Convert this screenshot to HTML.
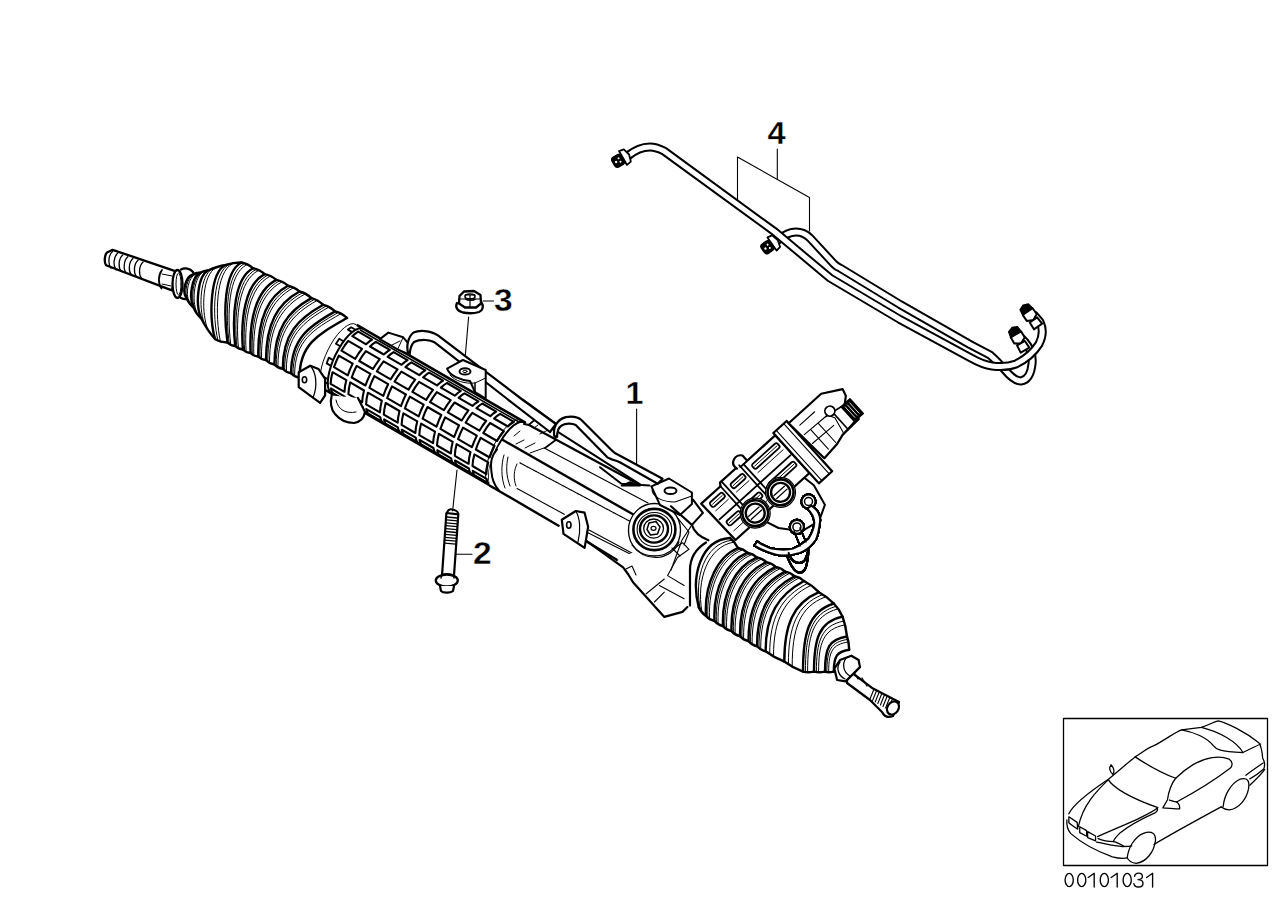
<!DOCTYPE html>
<html><head><meta charset="utf-8">
<style>
html,body{margin:0;padding:0;background:#fff;width:1288px;height:910px;overflow:hidden}
svg{position:absolute;left:0;top:0;display:block}
.lbl{font-family:"Liberation Sans",sans-serif;font-weight:bold;font-size:30.5px;fill:#000;stroke:#fff;stroke-width:0.35px}
</style></head><body>
<svg width="1288" height="910" viewBox="0 0 1288 910" fill="none" stroke="#000" stroke-linecap="round" stroke-linejoin="round">
<!-- labels -->
<g stroke="none">
<text class="lbl" transform="translate(625.5 404) scale(1.06 1)">1</text>
<text class="lbl" transform="translate(473 564) scale(1.1 1)">2</text>
<text class="lbl" transform="translate(494 310.5) scale(1.1 1)">3</text>
<text class="lbl" transform="translate(767.5 144) scale(1.07 1)">4</text>
</g>
<!-- leaders -->
<g stroke-width="1.1">
<path d="M636.6 409V465"/>
<path d="M455 554.3H472"/>
<path d="M483 301H493.5"/>
<path d="M777.3 149V179"/>
<path d="M737.5 202V157L809.5 197.5V231"/>
<path d="M468.6 317L464 371"/>
<path d="M457 470L452.6 511"/>
</g>

<!-- PIPES (4) -->
<g id="pipes">
<!-- pipe B (rear) -->
<path d="M778 240C785 234 790 232 796 232C802 232 806 234 810 238L834 264C836 266 837 267 840 268L900 304.5L970 344.5L990 355C996 360 1000 365 1005 370C1010 376 1015 381 1021 381C1027 380 1031 374 1032 364C1033 356 1030 348 1025 342L1017 334" stroke-width="9"/>
<path d="M778 240C785 234 790 232 796 232C802 232 806 234 810 238L834 264C836 266 837 267 840 268L900 304.5L970 344.5L990 355C996 360 1000 365 1005 370C1010 376 1015 381 1021 381C1027 380 1031 374 1032 364C1033 356 1030 348 1025 342L1017 334" stroke="#fff" stroke-width="5"/>
<!-- pipe A (front) -->
<path d="M628 156C635 150 642 147 650 147C656 147 660 149 664 151L775 232L830 278L900 319.5L970 357.5C978 362 984 365 992 366C1000 367 1008 367 1016 364C1026 359 1034 352 1039 344C1043 336 1043 328 1040 322L1034 315" stroke-width="9"/>
<path d="M628 156C635 150 642 147 650 147C656 147 660 149 664 151L775 232L830 278L900 319.5L970 357.5C978 362 984 365 992 366C1000 367 1008 367 1016 364C1026 359 1034 352 1039 344C1043 336 1043 328 1040 322L1034 315" stroke="#fff" stroke-width="5"/>
<!-- fittings -->
<g transform="translate(623 158) rotate(-30)">
<rect x="-11" y="-5.5" width="11" height="11" rx="3" fill="#000" stroke-width="1.5"/>
<circle cx="-8" cy="0" r="1.2" fill="#fff" stroke="none"/><circle cx="-4" cy="-2" r="1" fill="#fff" stroke="none"/><circle cx="-4" cy="2" r="1" fill="#fff" stroke="none"/>
<path d="M0 -8L5 -7L7 0L5 7L0 8Z" fill="#fff" stroke-width="1.8"/>
<path d="M7 -3.5L10 -3.5M7 3.5L10 3.5" stroke-width="1.5"/>
</g>
<g transform="translate(772 244) rotate(-35)">
<rect x="-11" y="-5.5" width="11" height="11" rx="3" fill="#000" stroke-width="1.5"/>
<circle cx="-8" cy="0" r="1.2" fill="#fff" stroke="none"/><circle cx="-4" cy="-2" r="1" fill="#fff" stroke="none"/><circle cx="-4" cy="2" r="1" fill="#fff" stroke="none"/>
<path d="M0 -8L5 -7L7 0L5 7L0 8Z" fill="#fff" stroke-width="1.8"/>
</g>
<g transform="translate(1030 315) rotate(-125)">
<path d="M-3 -6L4 -6L6 0L4 6L-3 6L-6 0Z" fill="#fff" stroke-width="2"/>
<path d="M4 -6L10 -5L12 0L10 5L4 6Z" fill="#000" stroke-width="1.5"/>
<path d="M-6 -4.5L-14 -5L-14 5L-6 4.5Z" fill="#fff" stroke-width="2"/>
</g>
<g transform="translate(1018 338) rotate(-120)">
<path d="M-3 -6L4 -6L6 0L4 6L-3 6L-6 0Z" fill="#fff" stroke-width="2"/>
<path d="M4 -6L10 -5L12 0L10 5L4 6Z" fill="#000" stroke-width="1.5"/>
<path d="M-6 -4.5L-14 -5L-14 5L-6 4.5Z" fill="#fff" stroke-width="2"/>
</g>
</g>

<!-- NUT (3) -->
<g id="nut" stroke-width="2">
<path d="M457 303C455 307 457 311 463 312.5C468 313.5 474 313.5 479 312C483 310.5 484 306 481.5 302.5" fill="#fff" stroke-width="2.3"/>
<path d="M459.5 296L464 291.5L474 291L480.5 295L481 303.5L476 307.5L465 307.5L459 303.5Z" fill="#fff" stroke-width="2.3"/>
<path d="M465 295L475 295M465 299C468 301 473 301 476 299M470 295L470 307.5M459 299L481 299" stroke-width="1.2"/>
<ellipse cx="470" cy="296.5" rx="5" ry="2.5" stroke-width="1.6"/>
</g>

<!-- BOLT (2) -->
<g id="bolt" stroke-width="2">
<path d="M446.4 513L458.3 514.3L454 575.7L442.1 574.3Z" fill="#fff" stroke-width="2.2"/>
<path d="M446.6 517.0L457.6 518.0M446.4 519.9L457.4 520.9M446.2 522.8L457.2 523.8M446.0 525.7L457.0 526.7M445.8 528.6L456.8 529.6M445.6 531.5L456.6 532.5M445.4 534.4L456.4 535.4M445.2 537.3L456.2 538.3M445.0 540.2L456.0 541.2M444.8 543.1L455.8 544.1" stroke-width="1.3"/>
<path d="M447 512.5C448 510 450 509 452 509.5C455 510 458 511 458.3 514" stroke-width="2"/>
<ellipse cx="446.8" cy="580.5" rx="11" ry="6" fill="#fff" stroke-width="2.3"/>
<path d="M441 578C441 575 444 574 448 574C452 574 454 576 454 578" stroke-width="1.5"/>
<path d="M440 586L441 591C443 593 450 593.5 453 591L454 586" fill="#fff" stroke-width="2.2"/>
</g>

<!-- RACK -->
<g id="rack" stroke-width="2">
<path d="M112.6 249.8L177.4 271.8L171.9 290.4L106 265.2C104 262 104.5 255 107 252.5Z" fill="#fff" stroke-width="2.3"/>
<path d="M112.5 251.5C108 255.5 108 264.5 111 268" stroke-width="1.3"/>
<path d="M117.6 253.2C113.1 257.2 113.1 266.2 116.1 269.8" stroke-width="1.3"/>
<path d="M122.7 255C118.2 259 118.2 268 121.2 271.5" stroke-width="1.3"/>
<path d="M127.8 256.8C123.3 260.8 123.3 269.8 126.3 273.2" stroke-width="1.3"/>
<path d="M132.9 258.5C128.4 262.5 128.4 271.5 131.4 275" stroke-width="1.3"/>
<path d="M138 260.2C133.5 264.2 133.5 273.2 136.5 276.8" stroke-width="1.3"/>
<path d="M143.1 262C138.6 266 138.6 275 141.6 278.5" stroke-width="1.3"/>
<path d="M162 270C158 275 158 284 161.5 288.5" stroke-width="1.8"/>
<path d="M162 274L172 276M162 284L171 286" stroke-width="1"/>
<path d="M181 269.5C185 267.5 190 268.5 193 272C196 278 196 290 191 297C188 299.5 184 299.5 181 298" fill="#fff" stroke-width="2.3"/>
<ellipse cx="177.5" cy="284" rx="5" ry="14" fill="#fff" stroke-width="2.3"/>
<ellipse cx="178.5" cy="284" rx="2.5" ry="11" stroke-width="1"/>
<path d="M355.8 324.4 524.9 422.4 524.9 422.4 522.6 421.7 519.8 422 516.8 423.3 513.5 425.5 510 428.7 506.6 432.6 503.2 437.2 500 442.4 497 447.9 494.4 453.6 492.3 459.4 490.6 465 489.5 470.3 489 475.1 489.2 479.4 489.9 482.8 491.1 485.5 493 487.1 323.9 389.2 322.1 387.5 320.8 384.8 320.1 381.4 320 377.1 320.5 372.3 321.6 367 323.2 361.4 325.4 355.6 328 349.9 330.9 344.4 334.1 339.2 337.5 334.6 341 330.7 344.4 327.6 347.7 325.3 350.8 324 353.5 323.7 355.8 324.4 Z" fill="#fff" stroke="none"/>
<path d="M358.2 331.6 372 339.6 369.1 341.6 366.1 344.3 352.3 336.2 355.3 333.6Z M348.2 340.8 362 348.8 358.5 353.5 355.3 358.8 341.4 350.7 344.7 345.5Z M338.8 355.6 352.7 363.6 350 369.4 347.8 375.3 334 367.2 336.2 361.4Z M332.5 372.2 346.3 380.2 345 386.3 344.5 391.8 330.6 383.8 331.2 378.3Z M330.9 388.5 344.7 396.6 345.3 399.1 346.3 401.2 332.4 393.2 331.5 391.1Z M375.9 341.9 389.8 349.9 386.9 351.9 383.8 354.5 370 346.5 373 343.8Z M365.9 351.1 379.7 359.1 376.3 363.8 373 369 359.2 361 362.4 355.8Z M356.6 365.9 370.4 373.9 367.7 379.7 365.5 385.5 351.7 377.5 353.9 371.7Z M350.2 382.4 364 390.5 362.7 396.6 362.2 402.1 348.4 394.1 348.9 388.6Z M348.6 398.8 362.5 406.9 363.1 409.4 364 411.5 350.2 403.5 349.2 401.4Z M393.6 352.1 407.5 360.2 404.6 362.1 401.6 364.8 387.7 356.8 390.7 354.1Z M383.6 361.3 397.5 369.4 394 374.1 390.7 379.3 376.9 371.3 380.2 366Z M374.3 376.2 388.1 384.2 385.5 390 383.3 395.8 369.4 387.8 371.6 382Z M367.9 392.7 381.8 400.7 380.5 406.9 379.9 412.4 366.1 404.4 366.6 398.8Z M366.3 409.1 380.2 417.1 380.8 419.7 381.8 421.8 367.9 413.7 367 411.7Z M411.4 362.4 425.2 370.4 422.3 372.4 419.3 375.1 405.5 367.1 408.5 364.4Z M401.4 371.6 415.2 379.7 411.7 384.4 408.5 389.6 394.6 381.6 397.9 376.3Z M392 386.4 405.9 394.5 403.2 400.3 401 406.1 387.2 398.1 389.4 392.2Z M385.7 403 399.5 411 398.2 417.2 397.7 422.7 383.8 414.6 384.4 409.1Z M384.1 419.4 397.9 427.4 398.5 430 399.5 432 385.6 424 384.7 422Z M429.1 372.7 443 380.7 440.1 382.7 437 385.4 423.2 377.4 426.2 374.7Z M419.1 381.9 433 389.9 429.5 394.6 426.2 399.9 412.4 391.9 415.6 386.6Z M409.8 396.7 423.6 404.7 420.9 410.5 418.7 416.4 404.9 408.4 407.1 402.5Z M403.4 413.3 417.3 421.3 415.9 427.4 415.4 433 401.6 424.9 402.1 419.4Z M401.8 429.7 415.7 437.7 416.3 440.3 417.2 442.3 403.4 434.3 402.4 432.2Z M446.9 383 460.7 391 457.8 393 454.8 395.7 440.9 387.6 444 385Z M436.8 392.2 450.7 400.2 447.2 404.9 443.9 410.2 430.1 402.1 433.4 396.9Z M427.5 407 441.3 415 438.7 420.8 436.5 426.7 422.6 418.6 424.8 412.8Z M421.1 423.6 435 431.6 433.7 437.7 433.1 443.2 419.3 435.2 419.8 429.7Z M419.6 439.9 433.4 448 434 450.5 435 452.6 421.1 444.6 420.2 442.5Z M464.6 393.3 478.4 401.3 475.5 403.3 472.5 405.9 458.7 397.9 461.7 395.2Z M454.6 402.5 468.4 410.5 465 415.2 461.7 420.5 447.8 412.4 451.1 407.2Z M445.2 417.3 459.1 425.3 456.4 431.1 454.2 437 440.4 428.9 442.6 423.1Z M438.9 433.8 452.7 441.9 451.4 448 450.9 453.5 437 445.5 437.6 440Z M437.3 450.2 451.1 458.3 451.7 460.8 452.7 462.9 438.9 454.9 437.9 452.8Z M482.3 403.5 496.2 411.6 493.3 413.5 490.3 416.2 476.4 408.2 479.4 405.5Z M472.3 412.8 486.2 420.8 482.7 425.5 479.4 430.7 465.6 422.7 468.8 417.5Z M463 427.6 476.8 435.6 474.2 441.4 471.9 447.2 458.1 439.2 460.3 433.4Z M456.6 444.1 470.5 452.1 469.1 458.3 468.6 463.8 454.8 455.8 455.3 450.3Z M455 460.5 468.9 468.5 469.5 471.1 470.4 473.2 456.6 465.1 455.6 463.1Z M500.1 413.8 513.9 421.9 511 423.8 508 426.5 494.1 418.5 497.2 415.8Z M490.1 423 503.9 431.1 500.4 435.8 497.1 441 483.3 433 486.6 427.7Z M480.7 437.8 494.5 445.9 491.9 451.7 489.7 457.5 475.8 449.5 478 443.6Z M474.4 454.4 488.2 462.4 486.9 468.6 486.3 474.1 472.5 466 473 460.5Z M472.8 470.8 486.6 478.8 487.2 481.4 488.2 483.4 474.3 475.4 473.4 473.4Z" stroke-width="2.1"/>
<path d="M357.6 325.4 L524.9 422.4" stroke-width="2.6"/>
<path d="M360.6 330.2 L519.3 422.2" stroke-width="1.6"/>
<path d="M325.7 390.2 L493 487.1" stroke-width="2.4"/>
<path d="M331.6 392 L490.3 484" stroke-width="1.2"/>
<path d="M355.8 324.4 L353.5 323.7 350.8 324 347.7 325.3 344.4 327.6 341 330.7 337.5 334.6 334.1 339.2 330.9 344.4 328 349.9 325.4 355.6 323.2 361.4 321.6 367 320.5 372.3 320 377.1 320.1 381.4 320.8 384.8 322.1 387.5 323.9 389.2" stroke-width="1"/>
<path d="M363.6 328.9 L361.3 328.2 358.6 328.5 355.5 329.8 352.2 332.1 348.8 335.2 345.3 339.1 341.9 343.7 338.7 348.9 335.7 354.4 333.1 360.1 331 365.9 329.4 371.5 328.3 376.8 327.8 381.6 327.9 385.9 328.6 389.3 329.9 392 331.7 393.7" stroke-width="2"/>
<path d="M524.9 422.4 L522.6 421.7 519.8 422 516.8 423.3 513.5 425.5 510 428.7 506.6 432.6 503.2 437.2 500 442.4 497 447.9 494.4 453.6 492.3 459.4 490.6 465 489.5 470.3 489 475.1 489.2 479.4 489.9 482.8 491.1 485.5 493 487.1" stroke-width="2"/>
<path d="M521.4 420.4 L519.1 419.7 516.4 420 513.3 421.3 510 423.5 506.6 426.7 503.1 430.6 499.7 435.2 496.5 440.3 493.5 445.9 491 451.6 488.8 457.3 487.2 463 486.1 468.3 485.6 473.1 485.7 477.3 486.4 480.8 487.7 483.4 489.5 485.1" stroke-width="1"/>
<path d="M355.5 329.8 351.2 327.3 347.9 329.6 352.2 332.1 M343.6 341.4 339.3 338.8 335.9 343.7 340.3 346.2 M333.1 360.1 328.8 357.6 326.7 363.4 331 365.9 M328 379.3 323.6 376.8 323.4 381.3 327.8 383.8" stroke-width="1.8"/>
<path d="M192 275 L200 272.8 208 270.5 225.7 265 241.5 262.5 253.1 268.3 264.7 274.1 276.3 279.9 287.9 285.7 299.5 291.5 311.4 298.1 323.2 304.8 335.1 311.4 347 318 C319 334 299.5 343.6 299.5 377.6 L299.5 377.6 291.1 373.2 282.8 368.8 274.4 364.4 266 360 258.3 356.5 250.6 353 242.9 349.5 235.2 346 227.5 342.5 215 339 201 318 193.5 307.5 186 297 Z" fill="#fff" stroke="none"/>
<path d="M192 275 C186 277 182 291 186 297 M200 272.8 C192 276.2 188.5 297.5 193.5 307.5 M208 270.5 C198 275.5 195 304 201 318 M225.7 265 C209.7 272 209 317 215 339 M241.5 262.5 C223.5 271.5 223.5 314.5 227.5 342.5 M253.1 268.3 C234.3 277.9 232 316.4 235.2 346 M264.7 274.1 C245.1 284.3 240.5 318.3 242.9 349.5 M276.3 279.9 C255.9 290.7 249 320.2 250.6 353 M287.9 285.7 C266.7 297.1 257.5 322.1 258.3 356.5 M299.5 291.5 C277.5 303.5 266 324 266 360 M311.4 298.1 C287.9 311.1 274.4 328.9 274.4 364.4 M323.2 304.8 C298.2 318.8 282.8 333.8 282.8 368.8 M335.1 311.4 C308.6 326.4 291.1 338.7 291.1 373.2 M347 318 C319 334 299.5 343.6 299.5 377.6" stroke-width="2.4"/>
<path d="M193.8 274.5 C187.3 276.8 183.4 292.4 187.7 299.3 M195.4 274.1 C188.5 276.7 184.7 293.7 189.2 301.4 M201.8 272.3 C193.3 276.1 189.9 298.9 195.2 309.8 M203.4 271.8 C194.5 275.9 191.2 300.2 196.7 311.9 M211.9 269.3 C200.6 274.7 198.1 306.9 204.1 322.6 M215.4 268.2 C202.9 274 200.9 309.5 206.9 326.8 M229.2 264.4 C212.7 271.9 212.2 316.4 217.8 339.8 M232.3 263.9 C215.5 271.8 215.1 316 220.2 340.5 M244.1 263.8 C225.9 272.9 225.4 314.9 229.2 343.3 M246.4 264.9 C228 274.2 227.1 315.3 230.7 344 M255.7 269.6 C236.7 279.3 233.9 316.8 236.9 346.8 M258 270.7 C238.8 280.6 235.6 317.2 238.4 347.5 M267.3 275.4 C247.5 285.7 242.4 318.7 244.6 350.3 M269.6 276.5 C249.6 287 244.1 319.1 246.1 351 M278.9 281.2 C258.3 292.1 250.9 320.6 252.3 353.8 M281.2 282.3 C260.4 293.4 252.6 321 253.8 354.5 M290.5 287 C269.1 298.5 259.4 322.5 260 357.3 M292.8 288.1 C271.2 299.8 261.1 322.9 261.5 358 M302.1 293 C279.8 305.2 267.8 325.1 267.8 361 M304.5 294.3 C281.9 306.7 269.5 326.1 269.5 361.8 M314 299.6 C290.2 312.8 276.2 330 276.2 365.4 M316.4 300.9 C292.2 314.3 277.9 331 277.9 366.2 M325.9 306.2 C300.5 320.4 284.6 334.9 284.6 369.8 M328.2 307.5 C302.6 322 286.3 335.9 286.3 370.6 M337.7 312.8 C310.9 328.1 293 339.8 293 374.2 M340.1 314.2 C313 329.6 294.6 340.8 294.6 375" stroke-width="1.0"/>
<path d="M192 275 Q196.9 272.3 200 272.8 Q204.9 270.1 208 270.5 Q217.7 266.2 225.7 265 Q234.5 262.2 241.5 262.5 Q248.2 263.8 253.1 268.3 Q259.8 269.6 264.7 274.1 Q271.4 275.4 276.3 279.9 Q283 281.2 287.9 285.7 Q294.6 287 299.5 291.5 Q306.3 293.2 311.4 298.1 Q318.2 299.9 323.2 304.8 Q330.1 306.5 335.1 311.4 Q341.9 313.1 347 318" stroke-width="2.4"/>
<path d="M186 297 Q188.9 303.8 193.5 307.5 Q196.4 314.3 201 318 Q207.1 330.1 215 339 Q220.4 342.3 227.5 342.5 Q230.5 345.8 235.2 346 Q238.2 349.3 242.9 349.5 Q245.9 352.8 250.6 353 Q253.6 356.3 258.3 356.5 Q261.3 359.8 266 360 Q269.3 363.8 274.4 364.4 Q277.7 368.2 282.8 368.8 Q286.1 372.6 291.1 373.2 Q294.4 377 299.5 377.6" stroke-width="2.4"/>
<path d="M298.7 372.3L310.3 365.7L318.5 369L325.1 378.9L325.1 395.4L320.1 402.8L298.7 387.2Z" fill="#fff" stroke-width="2.2"/>
<ellipse cx="304.5" cy="379.8" rx="2.2" ry="3" stroke-width="1.6"/>
<path d="M310.3 365.7C316 372 318 385 313 398" stroke-width="1.3"/>
<path d="M331.7 395.4C330 402 331 410 335 414C340 420 346 423 354 423C360 422 364 418 365 412L358 398" fill="#fff" stroke-width="2.2"/>
<path d="M336 400C338 410 346 414 356 412" stroke-width="1"/>
<path d="M497 449L502.9 440L632.9 514.3L651 520L640 560L617 560L558.6 525.7L490 485.7C487 475 490 458 497 449Z" fill="#fff" stroke="none"/>
<path d="M524 424L529 425L640 485L655 480L640 514L520 455Z" fill="#fff" stroke="none"/>
<path d="M502.9 440L632.9 514.3" stroke-width="2.4"/>
<path d="M490 485.7L558.6 525.7M585.5 540.7L617.2 560" stroke-width="2.4"/>
<path d="M520 462.9L632.9 522.9" stroke-width="1.2" stroke-dasharray="1.5 1"/>
<path d="M544.3 447.9L648 503" stroke-width="1.1"/>
<path d="M517.1 488.6L564.3 514.3M589 530.1L638.3 556.5" stroke-width="1.1"/>
<path d="M497.1 449.3C492 455 490 463 491.4 471.4C492 480 495 486 498.6 490" stroke-width="2"/>
<path d="M504 455C501 465 501 478 505 488M508 457C506 466 506 476 510 486M517 464C514 470 513 478 516 486" stroke-width="1"/>
<path d="M528.6 425L537.1 417.9L552.9 423.6L555.7 440L545 448" fill="#fff" stroke-width="1.8"/>
<path d="M514 436L520 431M516 444L524 440M525 448L535 443M530 453L544 448M540 434L548 430M534 428L538 425" stroke-width="1"/>
<path d="M524 424L529 425L640 485" stroke-width="2.2"/>
<path d="M508.6 400L554.3 423.6M522.9 400L554.3 422.9" stroke-width="2.2"/>
<path d="M557.1 431.4L640 484.3" stroke-width="2"/>
<path d="M621.4 485.7L640 485.7L630 482Z" fill="#000" stroke-width="1.5"/>
<path d="M561.8 519.8L575.8 511L584.6 512.7L588.1 526.8L586.4 537.4L584.6 547.9L563.5 533.8Z" fill="#fff" stroke-width="2.2"/>
<ellipse cx="568.8" cy="525" rx="2.2" ry="3.2" stroke-width="1.6"/>
<path d="M575.8 511C580 518 581 530 578 542" stroke-width="1.2"/>
<path d="M586.4 532.1L642.6 560.2" stroke-width="1.1"/>
<path d="M617 560L626.8 563.7L623.3 567.3L635.6 583.1L667.3 618.2L683.1 614.7L686.6 604.2L690 560L660 540Z" fill="#fff" stroke="none"/>
<path d="M586.4 540.9L623.1 567.4L628 574L633 582.2L664.3 616.9L682.5 611.9L687.4 607" stroke-width="2.2"/>
<path d="M628.5 531C628 516 640 503.5 654.4 503.5C669 503.5 680.5 516 680.5 530C680.5 545 670 556 654.4 556C640 556 628.7 546 628.5 531Z" fill="#fff" stroke-width="1.3"/>
<path d="M632 545C640 556 650 558 658 557.5C668 556 676 550 679 542" stroke-width="1.1"/>
<ellipse cx="654.4" cy="529.5" rx="21" ry="20.6" stroke-width="2.6"/>
<ellipse cx="654.4" cy="529.5" rx="17.3" ry="17" stroke-width="1.1"/>
<ellipse cx="654" cy="529" rx="14" ry="13.6" stroke-width="2.4"/>
<ellipse cx="653.6" cy="528.6" rx="9.9" ry="9.6" stroke-width="1.3"/>
<path d="M649 523L656 521.5L660 527L657.5 534L650.5 535L647 529.5Z" stroke-width="1.5"/>
<ellipse cx="653.5" cy="528.3" rx="2.5" ry="2" stroke-width="1.2"/>
<path d="M651.4 486.4L669 478.5L691.9 492.5L691.9 504L680 515L660 505Z" fill="#fff" stroke-width="2"/>
<path d="M652 490C653 497 662 502 675 502L691.9 496" stroke-width="1.1"/>
<ellipse cx="670.5" cy="490.8" rx="6" ry="3.3" stroke-width="2"/>
<path d="M693 499.7L702.9 512.9L691.9 524.9C694 532 700 537 708.4 540.3M671 506.3L691.9 524.9" stroke-width="2.1"/>
<path d="M682 540L691.9 524.9M671 570L682 540M672 548L680 556" stroke-width="1.1"/>
<path d="M677.5 517.9L689 532L684 545M672.6 549.3L682.5 542.7L689 549.3L677.5 557.5L667.6 575.6M646.2 593.8L664.3 579M654.4 602L664.3 592.1M659.4 585.5L684.1 598.7M667.6 575.6L684.1 585.5M626 569L632 566L636 575" stroke-width="1.1"/>
<path d="M379.9 339.1L388.3 332.6L403.2 337.3L407.9 342.9L407.9 354L397.6 349.4Z" fill="#fff" stroke-width="2"/>
<path d="M397.6 349.4L403.2 337.3M388 347L400 341" stroke-width="1"/>
<path d="M408.3 354C406 346 408 337 413.5 332.5C419 330 430 330 438.6 335.8L522.9 400L556 424L550 432L508.6 400L434.6 342.4C430 339.5 420 339 414 342C411 345 410 350 409.6 355Z" fill="#fff" stroke-width="2.2"/>
<path d="M554.3 436C553 428 556 420 565.7 417.1C572 416 578 417 581.4 420L611.4 450C614 453 616 454 618.6 455L662.6 478.8L657.7 483.7L619.8 462.3C614 460 610 459 607.1 457.1L575.7 425C572 423 565 423 561.4 425.7C558 428 557 432 557.1 437Z" fill="#fff" stroke-width="2.2"/>
<path d="M600 467.2L621.4 483.7L649.4 485.4" stroke-width="2"/>
<path d="M447.1 368.6L462.9 360L485.7 370L485.7 398.6L475 392L470 381C460 380 450 376 447.1 368.6Z" fill="#fff" stroke-width="2"/>
<path d="M450 375C455 381 465 384 475 383L485.7 378" stroke-width="1"/>
<path d="M475 383L475 392" stroke-width="1.5"/>
<ellipse cx="465" cy="371.4" rx="5.5" ry="3.2" stroke-width="2"/>
<ellipse cx="465" cy="371.4" rx="2" ry="1.2" stroke-width="1"/>
<path d="M730 538 L738 548 747.4 552.7 756.9 557.4 766.3 562.1 775.7 566.9 785.1 571.6 794.6 576.3 804 581 818.9 592.2 833.8 603.5 842.6 616.7 847 636.5 849.2 649.7 C837.2 651.7 833.8 655.6 833.8 671.6 L833.8 671.6 825 671.6 814 671.6 803 671.6 784.3 661.5 765.6 651.3 757.1 646.3 748.6 641.2 740.1 636.2 731.5 631.1 723 626.1 714.5 621 706 616 698.8 607.4 Z" fill="#fff" stroke="none"/>
<path d="M730 538 C700 540 690.8 577.4 698.8 607.4 M738 548 C718 556 704 584 706 616 M747.4 552.7 C726.6 561.6 712.8 588.5 714.5 621 M756.9 557.4 C735.1 567.1 721.6 592.9 723 626.1 M766.3 562.1 C743.7 572.7 730.4 597.4 731.5 631.1 M775.7 566.9 C752.3 578.3 739.2 601.9 740.1 636.2 M785.1 571.6 C760.9 583.9 748 606.4 748.6 641.2 M794.6 576.3 C769.4 589.4 756.8 610.8 757.1 646.3 M804 581 C778 595 765.6 615.3 765.6 651.3 M818.9 592.2 C792.9 603.2 784.3 625.5 784.3 661.5 M833.8 603.5 C807.8 611.5 803 635.6 803 671.6 M842.6 616.7 C818.6 621.7 814 639.6 814 671.6 M847 636.5 C829 639.5 825 647.6 825 671.6 M849.2 649.7 C837.2 651.7 833.8 655.6 833.8 671.6" stroke-width="2.4"/>
<path d="M731.8 540.2 C704 543.5 693.7 578.9 700.4 609.3 M733.4 542.2 C707.6 546.7 696.3 580.2 701.8 611 M740.1 549 C719.9 557.2 705.9 585 707.9 617.1 M742 550 C721.6 558.3 707.7 585.9 709.6 618.1 M749.5 553.8 C728.5 562.8 714.7 589.5 716.4 622.2 M751.4 554.7 C730.2 563.9 716.5 590.3 718.1 623.2 M758.9 558.5 C737 568.4 723.5 593.9 724.9 627.2 M760.8 559.4 C738.7 569.5 725.3 594.8 726.6 628.2 M768.4 563.2 C745.6 573.9 732.3 598.4 733.4 632.2 M770.2 564.1 C747.3 575.1 734.1 599.3 735.1 633.2 M777.8 567.9 C754.2 579.5 741.1 602.9 741.9 637.3 M779.7 568.8 C755.9 580.6 742.9 603.8 743.6 638.3 M787.2 572.6 C762.7 585.1 749.9 607.3 750.4 642.3 M789.1 573.6 C764.5 586.2 751.7 608.2 752.1 643.3 M796.6 577.3 C771.3 590.7 758.7 611.8 759 647.4 M798.5 578.3 C773 591.8 760.5 612.7 760.7 648.4 M807.3 583.5 C781.3 596.8 769.7 617.5 769.7 653.5 M810.3 585.7 C784.3 598.5 773.5 619.6 773.5 655.6 M822.2 594.7 C796.2 605.1 788.4 627.7 788.4 663.7 M825.2 597 C799.2 606.7 792.2 629.7 792.2 665.7 M835.7 606.4 C810.2 613.7 805.4 636.5 805.4 671.6 M837.5 609 C812.3 615.8 807.6 637.3 807.6 671.6 M843.6 621.1 C820.9 625.6 816.4 641.4 816.4 671.6 M844.4 625 C823 629.2 818.6 643 818.6 671.6 M847.5 639.4 C830.8 642.2 826.9 649.4 826.9 671.6 M847.9 642 C832.4 644.6 828.7 651 828.7 671.6" stroke-width="1.0"/>
<path d="M730 538 Q734.8 541.6 738 548 Q743.5 549 747.4 552.7 Q752.9 553.7 756.9 557.4 Q762.4 558.4 766.3 562.1 Q771.8 563.1 775.7 566.9 Q781.2 567.8 785.1 571.6 Q790.7 572.5 794.6 576.3 Q800.1 577.3 804 581 Q812.2 585.2 818.9 592.2 Q827.1 596.5 833.8 603.5 Q839 608.7 842.6 616.7 Q845.6 625.2 847 636.5 Q848.9 641.7 849.2 649.7" stroke-width="2.4"/>
<path d="M698.8 607.4 Q701.6 613.1 706 616 Q709.5 619.9 714.5 621 Q718 625 723 626.1 Q726.5 630 731.5 631.1 Q735 635 740.1 636.2 Q743.5 640.1 748.6 641.2 Q752 645.1 757.1 646.3 Q760.5 650.2 765.6 651.3 Q774.2 657.8 784.3 661.5 Q792.9 667.9 803 671.6 Q807.7 673 814 671.6 Q818.7 673 825 671.6 Q828.6 673 833.8 671.6" stroke-width="2.4"/>
<path d="M706 542.5C694 550 690 560 690 570C690 585 690 598 690 605.6" stroke-width="2.2"/>
<path d="M847 669L873 688.6L899 702L893 716C888 718 884 716 882 712L870 700L847 683Z" fill="#fff" stroke-width="2.2"/>
<path d="M851 667L858 679M862 678L867 686" stroke-width="1.2"/>
<path d="M874 689L870 699 M876.6 690.5L872.6 700.5 M879.2 692L875.2 702 M881.8 693.5L877.8 703.5 M884.4 695L880.4 705 M887 696.5L883 706.5 M889.6 698L885.6 708 M892.2 699.5L888.2 709.5" stroke-width="1.1"/>
<ellipse cx="893" cy="708" rx="5.5" ry="7" transform="rotate(35 893 708)" fill="#fff" stroke-width="2.2"/>
<path d="M834.3 668.6L840 660L851.4 655.7L858.6 660L860 667.1L845.7 681.4L837.1 680Z" fill="#fff" stroke-width="2.2"/>
<path d="M840 662C836 667 838 676 845 679M846 658C842 664 843 672 850 676" stroke-width="1.3"/>
<g transform="matrix(0.74 -0.67 0.67 0.74 702 503)">
<path d="M30 44L92 44L95 62L90 84L75 92L55 88L40 70Z" fill="#fff" stroke-width="2"/>
<path d="M-1 0L25 0L27 -3L53 -3L53 -1L100 -1L100 50L40 50L0 50Z" fill="#fff" stroke-width="2.3"/>
<path d="M49 -2C47 -12 58 -14 62 -8L62 -2" fill="#fff" stroke-width="2.2"/>
<path d="M25 0L25 50M29 -3L29 50M53 -3L53 50M57 -1L57 50M2 24L98 24" stroke-width="1.8"/>
<rect x="5" y="5" width="17" height="6" rx="2" stroke-width="1.8"/>
<path d="M7 8L20 8" stroke-width="0.9"/>
<rect x="5" y="30" width="17" height="6" rx="2" stroke-width="1.8"/>
<path d="M7 33L20 33" stroke-width="0.9"/>
<rect x="33" y="5" width="17" height="6" rx="2" stroke-width="1.8"/>
<path d="M35 8L48 8" stroke-width="0.9"/>
<rect x="33" y="30" width="17" height="6" rx="2" stroke-width="1.8"/>
<path d="M35 33L48 33" stroke-width="0.9"/>
<rect x="62" y="5" width="34" height="6" rx="2" stroke-width="1.8"/>
<path d="M64 8L94 8" stroke-width="0.9"/>
<rect x="62" y="30" width="34" height="6" rx="2" stroke-width="1.8"/>
<path d="M64 33L94 33" stroke-width="0.9"/>
<path d="M5 15L22 15M33 15L50 15M62 15L96 15M5 42L22 42M33 42L50 42" stroke-width="0.9"/>
<path d="M100 -4L118 -4L118 64L100 64Z" fill="#fff" stroke-width="2.2"/>
<path d="M104 -4L104 64M114 -4L114 64" stroke-width="1.1"/>
<path d="M118 -1L162 -1L181 10L179 17L172 23L173 43L150 44L140 47L121 49Z" fill="#fff" stroke-width="2.2"/>
<path d="M122 18L152 19L156 26L152 44M125 8L145 8M122 30L150 31M130 19L130 45M140 19L140 45" stroke-width="1.1"/>
<path d="M150 19L168 22M150 44L168 42M158 23L158 43" stroke-width="1.6"/>
<circle cx="156.8" cy="17.7" r="5" fill="#fff" stroke-width="1.8"/>
<path d="M168 22L180 22L180 42L168 42Z" fill="#000" stroke-width="1.5"/>
<path d="M171 25L171 39M174 25L174 39M177 25L177 39" stroke="#fff" stroke-width="0.8"/>
<circle cx="65.5" cy="44.9" r="15" fill="#fff" stroke-width="1.2"/>
<circle cx="65.5" cy="44.9" r="13" stroke-width="2.6"/>
<circle cx="65.5" cy="44.9" r="9.5" stroke-width="2.4"/>
<path d="M58.5 42.9L72.5 42.9M58.5 46.9L72.5 46.9" stroke-width="1.3"/>
<circle cx="32.7" cy="43.3" r="15" fill="#fff" stroke-width="1.2"/>
<circle cx="32.7" cy="43.3" r="13" stroke-width="2.6"/>
<circle cx="32.7" cy="43.3" r="9.5" stroke-width="2.4"/>
<path d="M25.7 41.3L39.7 41.3M25.7 45.3L39.7 45.3" stroke-width="1.3"/>
</g>
<circle cx="808.5" cy="501.5" r="7" fill="#fff" stroke-width="2.2"/>
<circle cx="808.5" cy="501.5" r="4" stroke-width="1.5"/>
<circle cx="796.9" cy="526.9" r="7" fill="#fff" stroke-width="2.2"/>
<circle cx="796.9" cy="526.9" r="4" stroke-width="1.5"/>
<path d="M811.4 505.7C818 510 821 515 820 522C819 530 818 536 815.7 540C810 548 805 551 800 552.9C790 556 780 556 774.3 554.3C766 552 760 549 754.3 545.7L757.1 541.4C762 545 767 547 771.4 548.6C780 550 788 550 792.9 548.6C800 546 804 542 808.6 538.6C812 533 814 528 814.3 522.9C814 516 811 512 807.1 508.6Z" fill="#fff" stroke-width="2"/>
<path d="M786 553C789 562 793 571 798.7 572.7C803 573 806 569 807 563C808 557 808.6 552 808.6 548.6" stroke-width="2"/>
<path d="M794 531L800 546M800 528L806 542" stroke-width="1.5"/>
</g>
<circle cx="808.5" cy="501.5" r="7" fill="#fff" stroke-width="2.2"/>
<circle cx="808.5" cy="501.5" r="4" stroke-width="1.5"/>
<circle cx="796.9" cy="526.9" r="7" fill="#fff" stroke-width="2.2"/>
<circle cx="796.9" cy="526.9" r="4" stroke-width="1.5"/>
<path d="M811.4 505.7C818 510 821 515 820 522C819 530 818 536 815.7 540C810 548 805 551 800 552.9C790 556 780 556 774.3 554.3C766 552 760 549 754.3 545.7L757.1 541.4C762 545 767 547 771.4 548.6C780 550 788 550 792.9 548.6C800 546 804 542 808.6 538.6C812 533 814 528 814.3 522.9C814 516 811 512 807.1 508.6Z" fill="#fff" stroke-width="2"/>
<path d="M786 553C789 562 793 571 798.7 572.7C803 573 806 569 807 563C808 557 808.6 552 808.6 548.6" stroke-width="2"/>
<path d="M794 531L800 546M800 528L806 542" stroke-width="1.5"/>
</g>
<circle cx="808.5" cy="501.5" r="7" fill="#fff" stroke-width="2.2"/>
<circle cx="808.5" cy="501.5" r="4" stroke-width="1.5"/>
<circle cx="796.9" cy="526.9" r="7" fill="#fff" stroke-width="2.2"/>
<circle cx="796.9" cy="526.9" r="4" stroke-width="1.5"/>
<path d="M811.4 505.7C818 510 821 515 820 522C819 530 818 536 815.7 540C810 548 805 551 800 552.9C790 556 780 556 774.3 554.3C766 552 760 549 754.3 545.7L757.1 541.4C762 545 767 547 771.4 548.6C780 550 788 550 792.9 548.6C800 546 804 542 808.6 538.6C812 533 814 528 814.3 522.9C814 516 811 512 807.1 508.6Z" fill="#fff" stroke-width="2"/>
<path d="M786 553C789 562 793 571 798.7 572.7C803 573 806 569 807 563C808 557 808.6 552 808.6 548.6" stroke-width="2"/>
<path d="M794 531L800 546M800 528L806 542" stroke-width="1.5"/>
</g>
<circle cx="808.5" cy="501.5" r="7" fill="#fff" stroke-width="2.2"/>
<circle cx="808.5" cy="501.5" r="4" stroke-width="1.5"/>
<circle cx="796.9" cy="526.9" r="7" fill="#fff" stroke-width="2.2"/>
<circle cx="796.9" cy="526.9" r="4" stroke-width="1.5"/>
<path d="M811.4 505.7C818 510 821 515 820 522C819 530 818 536 815.7 540C810 548 805 551 800 552.9C790 556 780 556 774.3 554.3C766 552 760 549 754.3 545.7L757.1 541.4C762 545 767 547 771.4 548.6C780 550 788 550 792.9 548.6C800 546 804 542 808.6 538.6C812 533 814 528 814.3 522.9C814 516 811 512 807.1 508.6Z" fill="#fff" stroke-width="2"/>
<path d="M786 553C789 562 793 571 798.7 572.7C803 573 806 569 807 563C808 557 808.6 552 808.6 548.6" stroke-width="2"/>
<path d="M794 531L800 546M800 528L806 542" stroke-width="1.5"/>
</g>
<circle cx="808.5" cy="501.5" r="7" fill="#fff" stroke-width="2.2"/>
<circle cx="808.5" cy="501.5" r="4" stroke-width="1.5"/>
<circle cx="796.9" cy="526.9" r="7" fill="#fff" stroke-width="2.2"/>
<circle cx="796.9" cy="526.9" r="4" stroke-width="1.5"/>
<path d="M811.4 505.7C818 510 821 515 820 522C819 530 818 536 815.7 540C810 548 805 551 800 552.9C790 556 780 556 774.3 554.3C766 552 760 549 754.3 545.7L757.1 541.4C762 545 767 547 771.4 548.6C780 550 788 550 792.9 548.6C800 546 804 542 808.6 538.6C812 533 814 528 814.3 522.9C814 516 811 512 807.1 508.6Z" fill="#fff" stroke-width="2"/>
<path d="M786 553C789 562 793 571 798.7 572.7C803 573 806 569 807 563C808 557 808.6 552 808.6 548.6" stroke-width="2"/>
<path d="M794 531L800 546M800 528L806 542" stroke-width="1.5"/>
</g>
<circle cx="808.5" cy="501.5" r="7" fill="#fff" stroke-width="2.2"/>
<circle cx="808.5" cy="501.5" r="4" stroke-width="1.5"/>
<circle cx="796.9" cy="526.9" r="7" fill="#fff" stroke-width="2.2"/>
<circle cx="796.9" cy="526.9" r="4" stroke-width="1.5"/>
<path d="M811.4 505.7C818 510 821 515 820 522C819 530 818 536 815.7 540C810 548 805 551 800 552.9C790 556 780 556 774.3 554.3C766 552 760 549 754.3 545.7L757.1 541.4C762 545 767 547 771.4 548.6C780 550 788 550 792.9 548.6C800 546 804 542 808.6 538.6C812 533 814 528 814.3 522.9C814 516 811 512 807.1 508.6Z" fill="#fff" stroke-width="2"/>
<path d="M786 553C789 562 793 571 798.7 572.7C803 573 806 569 807 563C808 557 808.6 552 808.6 548.6" stroke-width="2"/>
<path d="M794 531L800 546M800 528L806 542" stroke-width="1.5"/>
</g>
<circle cx="808.5" cy="501.5" r="7" fill="#fff" stroke-width="2.2"/>
<circle cx="808.5" cy="501.5" r="4" stroke-width="1.5"/>
<circle cx="796.9" cy="526.9" r="7" fill="#fff" stroke-width="2.2"/>
<circle cx="796.9" cy="526.9" r="4" stroke-width="1.5"/>
<path d="M811.4 505.7C818 510 821 515 820 522C819 530 818 536 815.7 540C810 548 805 551 800 552.9C790 556 780 556 774.3 554.3C766 552 760 549 754.3 545.7L757.1 541.4C762 545 767 547 771.4 548.6C780 550 788 550 792.9 548.6C800 546 804 542 808.6 538.6C812 533 814 528 814.3 522.9C814 516 811 512 807.1 508.6Z" fill="#fff" stroke-width="2"/>
<path d="M788.6 552.9C790 557 792 561 796 562.5C800 563.5 803 563 805 560C807 556 808 552 808.6 548.6" stroke-width="2"/>
<path d="M794 531L800 546M800 528L806 542" stroke-width="1.5"/>
</g>
<circle cx="808.5" cy="501.5" r="7" fill="#fff" stroke-width="2.2"/>
<circle cx="808.5" cy="501.5" r="4" stroke-width="1.5"/>
<circle cx="796.9" cy="526.9" r="7" fill="#fff" stroke-width="2.2"/>
<circle cx="796.9" cy="526.9" r="4" stroke-width="1.5"/>
<path d="M811.4 505.7C818 510 821 515 820 522C819 530 818 536 815.7 540C810 548 805 551 800 552.9C790 556 780 556 774.3 554.3C766 552 760 549 754.3 545.7L757.1 541.4C762 545 767 547 771.4 548.6C780 550 788 550 792.9 548.6C800 546 804 542 808.6 538.6C812 533 814 528 814.3 522.9C814 516 811 512 807.1 508.6Z" fill="#fff" stroke-width="2"/>
<path d="M788.6 552.9C790 557 792 561 796 562.5C800 563.5 803 563 805 560C807 556 808 552 808.6 548.6" stroke-width="2"/>
<path d="M794 531L800 546M800 528L806 542" stroke-width="1.5"/>
</g>
<circle cx="808.5" cy="501.5" r="7" fill="#fff" stroke-width="2.2"/>
<circle cx="808.5" cy="501.5" r="4" stroke-width="1.5"/>
<circle cx="796.9" cy="526.9" r="7" fill="#fff" stroke-width="2.2"/>
<circle cx="796.9" cy="526.9" r="4" stroke-width="1.5"/>
<path d="M811.4 505.7C818 510 821 515 820 522C819 530 818 536 815.7 540C810 548 805 551 800 552.9C790 556 780 556 774.3 554.3C766 552 760 549 754.3 545.7L757.1 541.4C762 545 767 547 771.4 548.6C780 550 788 550 792.9 548.6C800 546 804 542 808.6 538.6C812 533 814 528 814.3 522.9C814 516 811 512 807.1 508.6Z" fill="#fff" stroke-width="2"/>
<path d="M788.6 552.9C790 557 792 561 796 562.5C800 563.5 803 563 805 560C807 556 808 552 808.6 548.6" stroke-width="2"/>
<path d="M794 531L800 546M800 528L806 542" stroke-width="1.5"/>
</g>
<circle cx="808.5" cy="501.5" r="7" fill="#fff" stroke-width="2.2"/>
<circle cx="808.5" cy="501.5" r="4" stroke-width="1.5"/>
<circle cx="796.9" cy="526.9" r="7" fill="#fff" stroke-width="2.2"/>
<circle cx="796.9" cy="526.9" r="4" stroke-width="1.5"/>
<path d="M811.4 505.7C818 510 821 515 820 522C819 530 818 536 815.7 540C810 548 805 551 800 552.9C790 556 780 556 774.3 554.3C766 552 760 549 754.3 545.7L757.1 541.4C762 545 767 547 771.4 548.6C780 550 788 550 792.9 548.6C800 546 804 542 808.6 538.6C812 533 814 528 814.3 522.9C814 516 811 512 807.1 508.6Z" fill="#fff" stroke-width="2"/>
<path d="M788.6 552.9C790 557 792 561 796 562.5C800 563.5 803 563 805 560C807 556 808 552 808.6 548.6" stroke-width="2"/>
<path d="M794 531L800 546M800 528L806 542" stroke-width="1.5"/>
</g>
<circle cx="808.5" cy="501.5" r="7" fill="#fff" stroke-width="2.2"/>
<circle cx="808.5" cy="501.5" r="4" stroke-width="1.5"/>
<circle cx="796.9" cy="526.9" r="7" fill="#fff" stroke-width="2.2"/>
<circle cx="796.9" cy="526.9" r="4" stroke-width="1.5"/>
<path d="M811.4 505.7C818 510 821 515 820 522C819 530 818 536 815.7 540C810 548 805 551 800 552.9C790 556 780 556 774.3 554.3C766 552 760 549 754.3 545.7L757.1 541.4C762 545 767 547 771.4 548.6C780 550 788 550 792.9 548.6C800 546 804 542 808.6 538.6C812 533 814 528 814.3 522.9C814 516 811 512 807.1 508.6Z" fill="#fff" stroke-width="2"/>
<path d="M788.6 552.9C790 557 792 561 796 562.5C800 563.5 803 563 805 560C807 556 808 552 808.6 548.6" stroke-width="2"/>
<path d="M794 531L800 546M800 528L806 542" stroke-width="1.5"/>
</g>
<circle cx="808.5" cy="501.5" r="7" fill="#fff" stroke-width="2.2"/>
<circle cx="808.5" cy="501.5" r="4" stroke-width="1.5"/>
<circle cx="796.9" cy="526.9" r="7" fill="#fff" stroke-width="2.2"/>
<circle cx="796.9" cy="526.9" r="4" stroke-width="1.5"/>
<path d="M811.4 505.7C818 510 821 515 820 522C819 530 818 536 815.7 540C810 548 805 551 800 552.9C790 556 780 556 774.3 554.3C766 552 760 549 754.3 545.7L757.1 541.4C762 545 767 547 771.4 548.6C780 550 788 550 792.9 548.6C800 546 804 542 808.6 538.6C812 533 814 528 814.3 522.9C814 516 811 512 807.1 508.6Z" fill="#fff" stroke-width="2"/>
<path d="M788.6 552.9C790 557 792 561 796 562.5C800 563.5 803 563 805 560C807 556 808 552 808.6 548.6" stroke-width="2"/>
<path d="M794 531L800 546M800 528L806 542" stroke-width="1.5"/>
</g>
<circle cx="808.5" cy="501.5" r="7" fill="#fff" stroke-width="2.2"/>
<circle cx="808.5" cy="501.5" r="4" stroke-width="1.5"/>
<circle cx="796.9" cy="526.9" r="7" fill="#fff" stroke-width="2.2"/>
<circle cx="796.9" cy="526.9" r="4" stroke-width="1.5"/>
<path d="M811.4 505.7C818 510 821 515 820 522C819 530 818 536 815.7 540C810 548 805 551 800 552.9C790 556 780 556 774.3 554.3C766 552 760 549 754.3 545.7L757.1 541.4C762 545 767 547 771.4 548.6C780 550 788 550 792.9 548.6C800 546 804 542 808.6 538.6C812 533 814 528 814.3 522.9C814 516 811 512 807.1 508.6Z" fill="#fff" stroke-width="2"/>
<path d="M788.6 552.9C790 557 792 561 796 562.5C800 563.5 803 563 805 560C807 556 808 552 808.6 548.6" stroke-width="2"/>
<path d="M794 531L800 546M800 528L806 542" stroke-width="1.5"/>
</g>

<!-- INSET -->
<rect x="1063.5" y="718.5" width="204" height="147" stroke-width="1.3"/>
<g stroke-width="1.35"><ellipse cx="1069.2" cy="880" rx="4.1" ry="6.6"/><ellipse cx="1081.7" cy="880" rx="4.1" ry="6.6"/><ellipse cx="1104.3" cy="880" rx="4.1" ry="6.6"/><ellipse cx="1127.2" cy="880" rx="4.1" ry="6.6"/><path d="M1088.2 877.5L1094.2 873.3V887"/><path d="M1111.2 877.5L1117.2 873.3V887"/><path d="M1146.6 877.5L1152.6 873.3V887"/><path d="M1134.6 876.3C1135 874 1136.6 873.1 1138.5 873.1C1141 873.1 1142.4 874.6 1142.4 876.6C1142.4 878.6 1140.8 879.6 1138 879.6C1141.3 879.6 1143 881 1143 883.5C1143 885.9 1141.2 887 1138.5 887C1135.8 887 1134.2 885.8 1133.9 883.6"/></g>
<g id="car" transform="translate(1055 710) scale(0.19782)" stroke-width="6.5">
<path d="M70 525C90 480 150 430 270 350C330 300 370 265 405 237C440 215 470 190 500 180C560 150 600 115 640 100L740 88C780 75 800 60 825 55C870 65 960 110 1030 165C1045 185 1048 220 1050 245C1060 260 1062 280 1055 298C1030 320 1000 340 985 348"/>
<path d="M283 277C272 290 275 310 292 325C302 315 300 295 283 277Z"/>
<path d="M270 352C290 390 380 445 520 493"/>
<path d="M270 352C210 410 140 480 118 590"/>
<path d="M405 237C470 280 540 320 610 345"/>
<path d="M640 100C700 110 770 140 800 180C815 200 830 210 950 215C990 195 1020 180 1040 172"/>
<path d="M740 88C830 110 920 160 950 215"/>
<path d="M610 345C590 370 575 410 568 455C560 470 550 485 545 495C580 497 610 500 630 500C632 485 625 472 615 465C600 462 590 458 578 455"/>
<path d="M615 465C700 420 800 360 885 295C900 280 898 262 880 248C830 228 760 240 700 275C650 305 625 330 610 345"/>
<path d="M500 680C600 620 720 555 840 490"/>
<path d="M365 748C370 700 400 640 450 622C490 608 510 625 508 660C500 720 460 770 410 775C390 773 375 765 365 748"/>
<path d="M850 488C855 430 890 370 935 350C975 338 985 360 978 400C968 450 930 500 880 505C862 503 850 498 840 490"/>
<path d="M60 555C58 580 62 605 80 625C120 660 200 710 290 742C320 750 340 752 365 748"/>
<path d="M125 590L160 610L160 638L125 620Z"/>
<path d="M165 615L205 637L205 662L165 645Z"/>
<path d="M70 540L112 568L115 602C95 590 80 580 70 570Z"/>
<path d="M210 668C250 675 300 688 340 690C360 690 380 690 388 687"/>
<path d="M218 650C240 660 270 665 298 665C310 670 330 678 345 686"/>
<path d="M215 640C280 610 380 570 430 545C470 525 500 510 518 495C520 505 515 515 505 520C450 545 380 580 330 620C315 635 300 650 295 665"/>
<path d="M965 330C990 310 1020 290 1052 268"/>
<path d="M985 380C1010 355 1040 330 1060 300"/>
</g>
</svg>
</body></html>
